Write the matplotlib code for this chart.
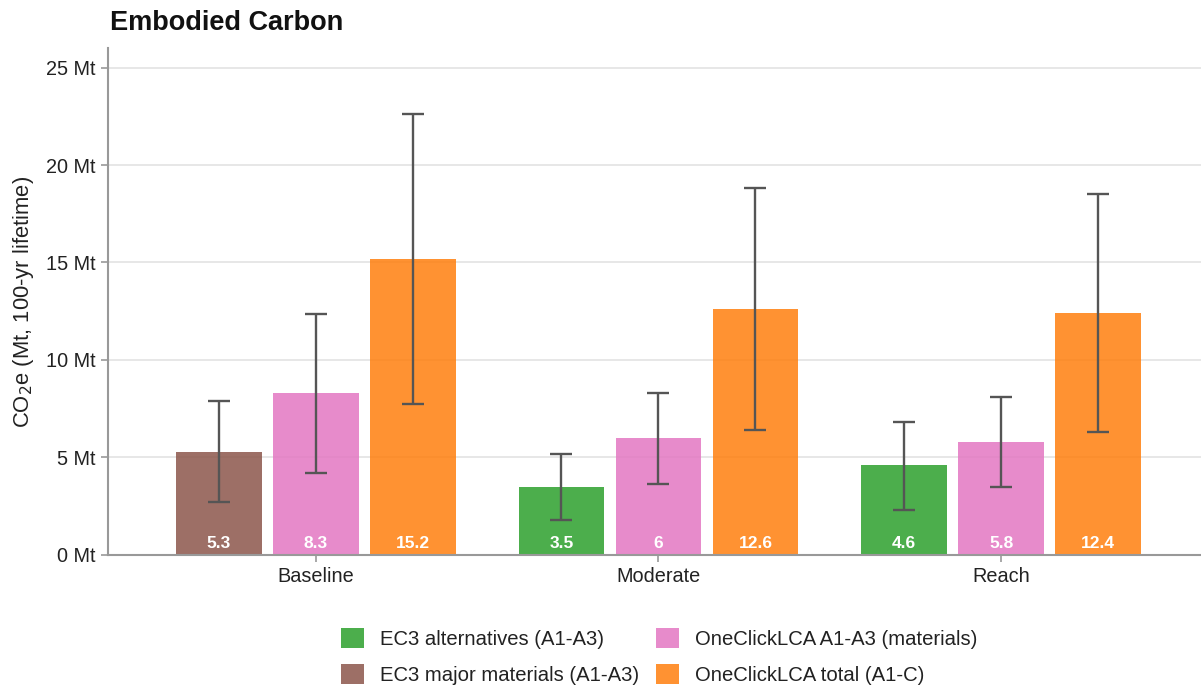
import matplotlib
matplotlib.use("Agg")
import matplotlib.pyplot as plt
import numpy as np
from matplotlib.patches import Patch

plt.rcParams["font.family"] = ["Liberation Sans", "DejaVu Sans"]

scenarios = ["Baseline", "Moderate", "Reach"]

# EC3 bar in each group (major materials for baseline, alternatives otherwise)
ec3_labels = ["EC3 major materials (A1-A3)", "EC3 alternatives (A1-A3)", "EC3 alternatives (A1-A3)"]
ec3_vals = [5.3, 3.5, 4.6]
ec3_lo = [2.7, 1.8, 2.3]
ec3_hi = [7.9, 5.2, 6.8]

ocl_mat_vals = [8.3, 6, 5.8]
ocl_mat_lo = [4.2, 3.65, 3.5]
ocl_mat_hi = [12.35, 8.3, 8.1]

ocl_tot_vals = [15.2, 12.6, 12.4]
ocl_tot_lo = [7.75, 6.4, 6.3]
ocl_tot_hi = [22.6, 18.8, 18.5]

colors = {
    "EC3 alternatives (A1-A3)": "#2ca02c",
    "EC3 major materials (A1-A3)": "#8c564b",
    "OneClickLCA A1-A3 (materials)": "#e377c2",
    "OneClickLCA total (A1-C)": "#ff7f0e",
}

fig = plt.figure(figsize=(12.01, 6.90), dpi=100)
ax = fig.add_axes([0.0899, 0.1957, 0.915, 0.7347])

x = np.arange(len(scenarios))
step = 0.283
width = 0.25
err_kw = dict(ecolor="#555555", elinewidth=1.7, capsize=8, capthick=1.7)


def draw(offset, vals, lo, hi, cols):
    vals = np.array(vals, dtype=float)
    yerr = [vals - np.array(lo), np.array(hi) - vals]
    ax.bar(x + offset, vals, width, color=cols, alpha=0.85, zorder=2)
    ax.errorbar(x + offset, vals, yerr=yerr, fmt="none", zorder=3, **err_kw)
    for xi, v in zip(x + offset, vals):
        ax.text(xi, 0.6, f"{v:g}", ha="center", va="center", color="white",
                fontsize=12.5, fontweight="bold", zorder=4)


draw(-step, ec3_vals, ec3_lo, ec3_hi, [colors[l] for l in ec3_labels])
draw(0, ocl_mat_vals, ocl_mat_lo, ocl_mat_hi, colors["OneClickLCA A1-A3 (materials)"])
draw(step, ocl_tot_vals, ocl_tot_lo, ocl_tot_hi, colors["OneClickLCA total (A1-C)"])

ax.set_xlim(-0.606, 2.6)
ax.set_ylim(0, 26)
ax.set_yticks([0, 5, 10, 15, 20, 25])
ax.set_yticklabels([f"{t} Mt" for t in [0, 5, 10, 15, 20, 25]])
ax.set_xticks(x)
ax.set_xticklabels(scenarios)
ax.tick_params(axis="both", labelsize=14.3, color="#999999", length=5, width=1.2,
               labelcolor="#222222", pad=4)
ax.yaxis.grid(True, color="#e3e3e3", linewidth=1.2, zorder=0)
ax.set_axisbelow(True)
for s in ["top", "right"]:
    ax.spines[s].set_visible(False)
for s in ["left", "bottom"]:
    ax.spines[s].set_color("#999999")
    ax.spines[s].set_linewidth(1.5)

ax.set_ylabel("CO$_2$e (Mt, 100-yr lifetime)", fontsize=15.8, color="#222222", labelpad=7)

fig.text(0.0915, 0.966, "Embodied Carbon", fontsize=19.5, fontweight="bold",
         ha="left", va="center", color="#111111")

order = ["EC3 alternatives (A1-A3)", "EC3 major materials (A1-A3)",
         "OneClickLCA A1-A3 (materials)", "OneClickLCA total (A1-C)"]
handles = [Patch(facecolor=colors[k], alpha=0.85, label=k) for k in order]
fig.legend(handles=handles, loc="center", bbox_to_anchor=(0.549, 0.049), ncol=2,
           frameon=False, fontsize=14.6, handlelength=1.13, handleheight=1.13,
           columnspacing=0.8, handletextpad=0.8, labelspacing=0.74,
           labelcolor="#222222")

fig.savefig("out.png", dpi=100)
